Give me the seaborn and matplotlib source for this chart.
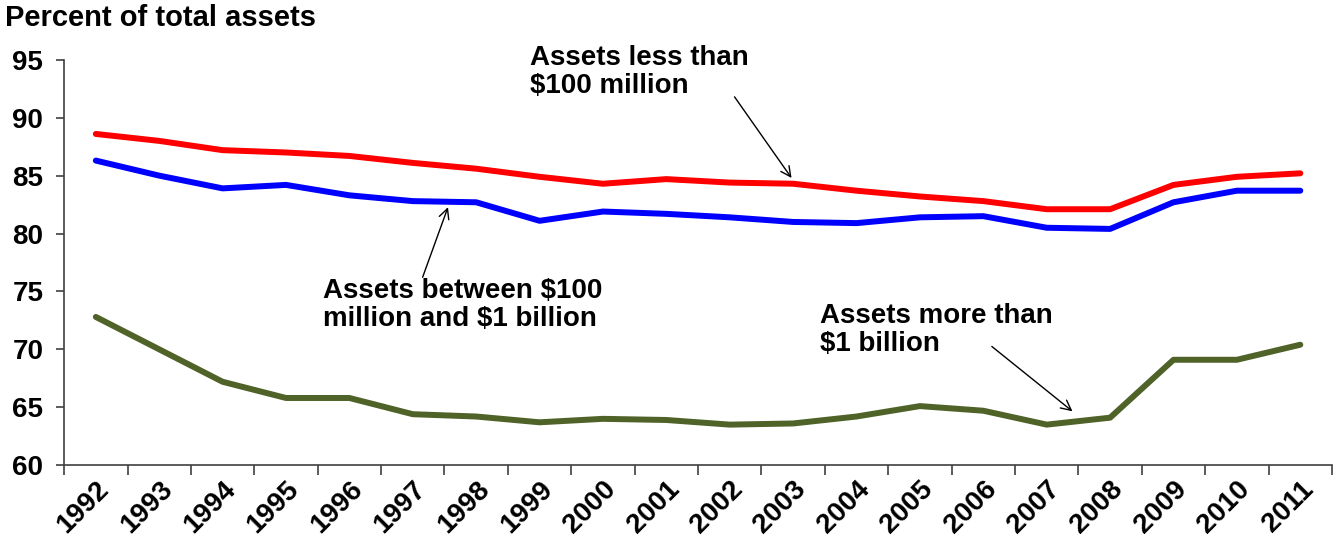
import numpy as np
import pandas as pd
import matplotlib
matplotlib.use("Agg")
import matplotlib.pyplot as plt
import matplotlib.transforms as mtransforms
import seaborn as sns

years = [str(y) for y in range(1992, 2012)]
less_100m = [88.6, 88.0, 87.2, 87.0, 86.7, 86.1, 85.6, 84.9, 84.3, 84.7,
             84.4, 84.3, 83.7, 83.2, 82.8, 82.1, 82.1, 84.2, 84.9, 85.2]
between_100m_1b = [86.3, 85.0, 83.9, 84.2, 83.3, 82.8, 82.7, 81.1, 81.9, 81.7,
                   81.4, 81.0, 80.9, 81.4, 81.5, 80.5, 80.4, 82.7, 83.7, 83.7]
more_1b = [72.8, 70.0, 67.2, 65.8, 65.8, 64.4, 64.2, 63.7, 64.0, 63.9,
           63.5, 63.6, 64.2, 65.1, 64.7, 63.5, 64.1, 69.1, 69.1, 70.4]
y_ticks = [60, 65, 70, 75, 80, 85, 90, 95]

series = {
    "less": less_100m,
    "between": between_100m_1b,
    "more": more_1b,
}
colors = {"less": "#FF0000", "between": "#0000FF", "more": "#4F6228"}

df = pd.DataFrame([
    {"idx": i, "year": years[i], "group": g, "value": v}
    for g, vals in series.items() for i, v in enumerate(vals)
])

sns.set_style("ticks")
plt.rcParams["font.family"] = ["Liberation Sans", "DejaVu Sans"]
plt.rcParams["font.weight"] = "bold"
plt.rcParams["text.color"] = "black"
plt.rcParams["xtick.color"] = "black"
plt.rcParams["ytick.color"] = "black"

fig = plt.figure(figsize=(13.36, 5.39), dpi=100)
ax = fig.add_axes([0.048, 0.137, 0.949, 0.752])

sns.lineplot(data=df, x="idx", y="value", hue="group", palette=colors,
             linewidth=4.3, legend=False, ax=ax, solid_capstyle="round")

ax.set_xlim(-0.5, len(years) - 0.5)
ax.set_ylim(60, 95)
ax.set_yticks(y_ticks)
ax.set_yticklabels([str(t) for t in y_ticks], fontsize=20, fontweight="bold")

# excel style: tick marks between categories, labels at the centre
ax.set_xticks(np.arange(-0.5, len(years), 1.0))
ax.set_xticklabels([])
ax.set_xticks(np.arange(len(years)), minor=True)
ax.set_xticklabels(years, minor=True, rotation=45, ha="right",
                   rotation_mode="anchor", fontsize=20, fontweight="bold")
shift = mtransforms.ScaledTranslation(10 / 100, 0, fig.dpi_scale_trans)
for lbl in ax.get_xticklabels(minor=True):
    lbl.set_transform(lbl.get_transform() + shift)
ax.tick_params(axis="x", which="minor", length=0, pad=8)
ax.tick_params(axis="x", which="major", length=7, width=1.2, direction="out", color="#404040")
ax.tick_params(axis="y", length=6, width=1.2, color="#404040", pad=9)
ax.set_xlabel("")
ax.set_ylabel("")
for s in ["left", "bottom"]:
    ax.spines[s].set_color("#404040")
    ax.spines[s].set_linewidth(1.2)
sns.despine(ax=ax)

fig.text(0.004, 0.966, "Percent of total assets", fontsize=21, fontweight="bold",
         ha="left", va="center")

arrow = dict(arrowstyle="->", color="black", lw=1.0, mutation_scale=18)
ax.annotate("", xy=(11.0, 84.6), xytext=(10.05, 92.0), arrowprops=arrow)
ax.text(6.85, 96.3, "Assets less than\n$100 million", fontsize=20, fontweight="bold",
        ha="left", va="top", linespacing=1.1, clip_on=False)

ax.annotate("", xy=(5.57, 82.5), xytext=(5.14, 76.0), arrowprops=arrow)
ax.text(3.58, 76.2, "Assets between $100\nmillion and $1 billion", fontsize=20,
        fontweight="bold", ha="left", va="top", linespacing=1.1)

ax.annotate("", xy=(15.44, 64.5), xytext=(14.1, 70.4), arrowprops=arrow)
ax.text(11.42, 74.0, "Assets more than\n$1 billion", fontsize=20, fontweight="bold",
        ha="left", va="top", linespacing=1.1)

fig.savefig("out.png", dpi=100)
